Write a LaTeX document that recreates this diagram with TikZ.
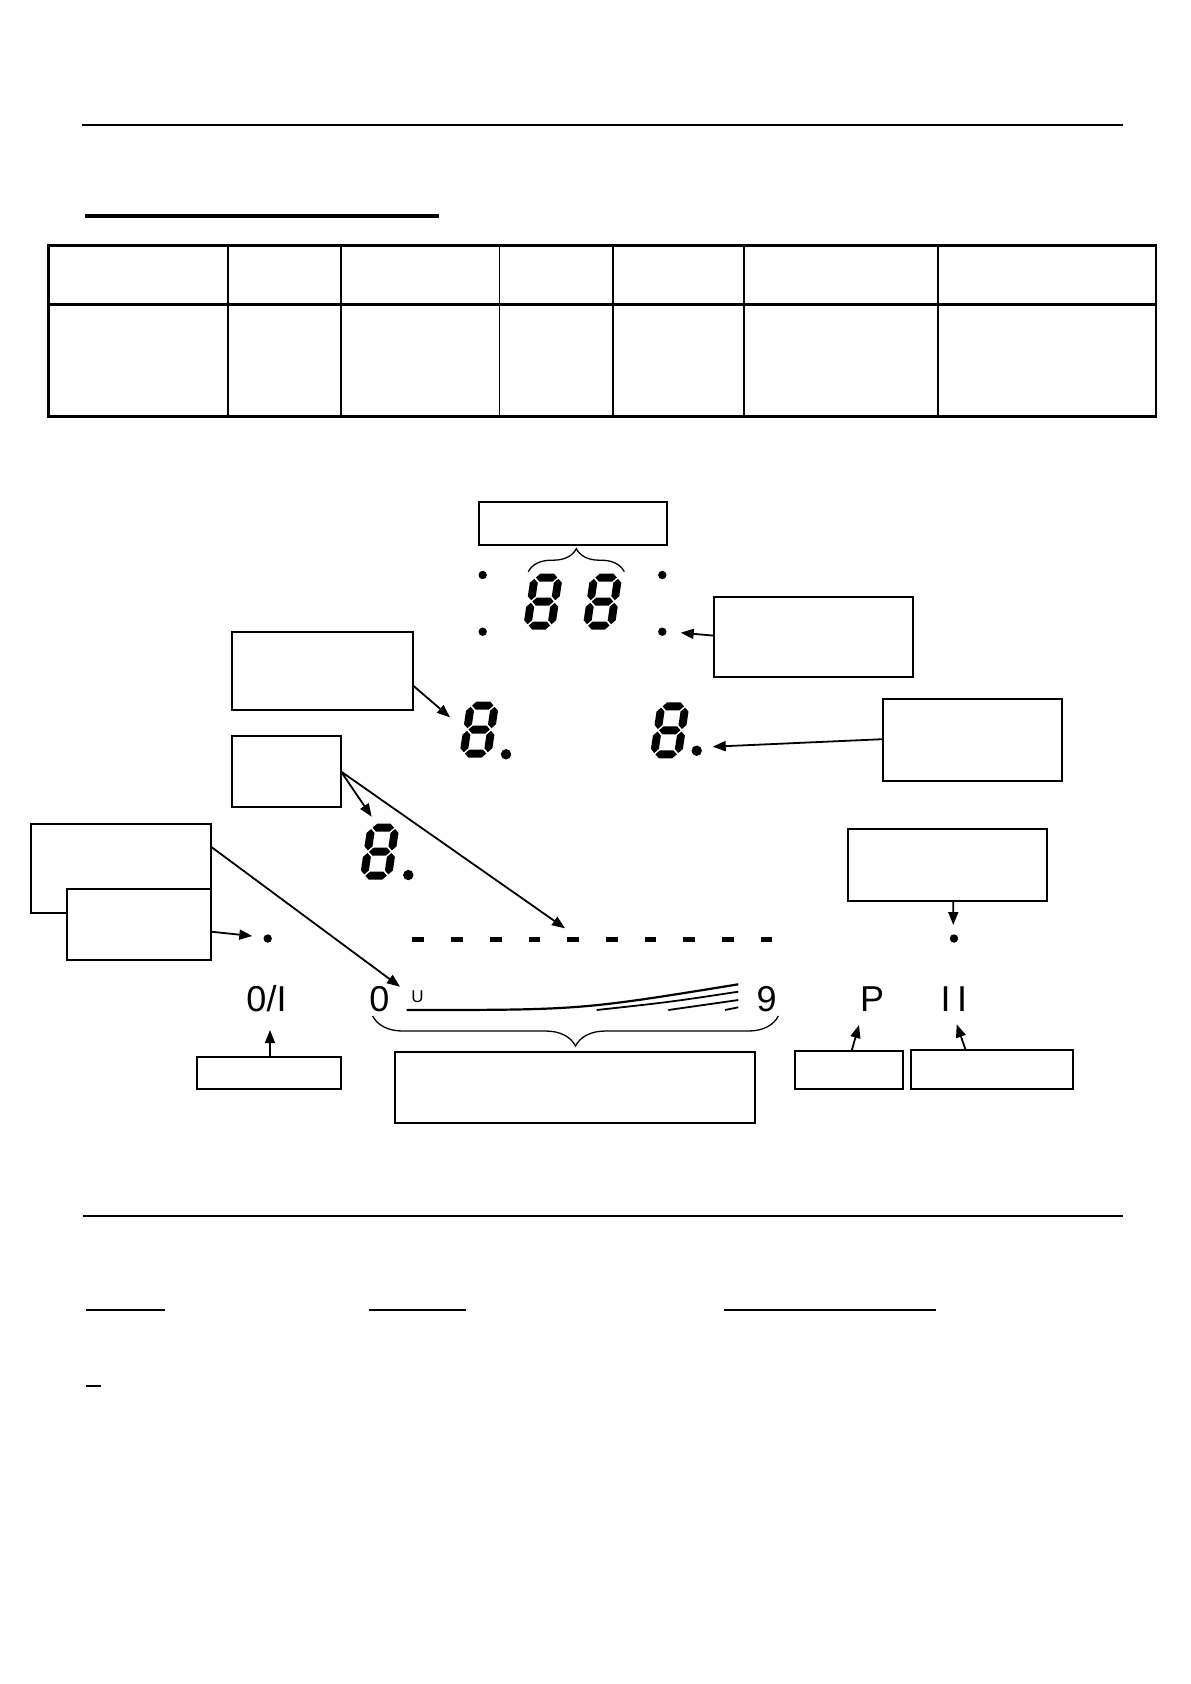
\documentclass[tikz,border=0pt]{standalone}
\usepackage{fontspec}
\setmainfont{Liberation Sans}
\usetikzlibrary{arrows.meta,calc,decorations.pathreplacing}
\newcommand\mybox[5]{\node[box, minimum width={(#4)-(#2)}, minimum height={(#5)-(#3)}] (#1) at ({((#2)+(#4))/2},{((#3)+(#5))/2}) {};}
\tikzset{
  segdigit/.pic={
    \begin{scope}[xslant=0.15]
      % horizontal segments
      \fill (-10.7,-24) -- (-6.7,-28) -- (6.7,-28) -- (10.7,-24) -- (6.7,-20) -- (-6.7,-20) -- cycle;
      \fill (-10.7,0) -- (-6.7,-4) -- (6.7,-4) -- (10.7,0) -- (6.7,4) -- (-6.7,4) -- cycle;
      \fill (-10.7,24) -- (-6.7,20) -- (6.7,20) -- (10.7,24) -- (6.7,28) -- (-6.7,28) -- cycle;
      % vertical segments
      \fill (-12,-22.7) -- (-8,-18.7) -- (-8,-5.3) -- (-12,-1.3) -- (-16,-5.3) -- (-16,-18.7) -- cycle;
      \fill (-12,1.3) -- (-8,5.3) -- (-8,18.7) -- (-12,22.7) -- (-16,18.7) -- (-16,5.3) -- cycle;
      \fill (12,-22.7) -- (16,-18.7) -- (16,-5.3) -- (12,-1.3) -- (8,-5.3) -- (8,-18.7) -- cycle;
      \fill (12,1.3) -- (16,5.3) -- (16,18.7) -- (12,22.7) -- (8,18.7) -- (8,5.3) -- cycle;
    \end{scope}
  }
}
\begin{document}
\begin{tikzpicture}[x=1pt,y=-1pt,
  box/.style={draw, line width=1.8pt, fill=white, inner sep=0pt, outer sep=0pt},
  arr/.style={line width=1.8pt, -{Triangle[length=13pt,width=10pt]}},
  thinrule/.style={line width=1.5pt},
  lbl/.style={inner sep=0pt, anchor=base, font=\fontsize{36}{40}\selectfont},
  bigdot/.style={circle, fill, inner sep=0pt, minimum size=10.4pt},
  smalldot/.style={circle, fill, inner sep=0pt, minimum size=8.4pt},
  segbar/.style={fill, inner sep=0pt, minimum width=11.7pt, minimum height=5.5pt},
  bracestyle/.style={line width=1.3pt, decorate},
]
\useasboundingbox[fill=white] (0,0) rectangle (1191,1684);

% ---- header rules ----
\draw[thinrule] (82,125) -- (1123,125);
\draw[line width=3.5pt] (85,216) -- (439,216);

% ---- table ----
\foreach \xx in {227.6,341,499.4,613.2,744,938}
  \draw[line width=1.8pt] (\xx,245.7) -- (\xx,416.5);
\draw[line width=2.6pt] (48.5,304.7) -- (1156,304.7);
\draw[line width=2.6pt] (48.5,245.7) rectangle (1156,416.5);

% ---- display: seven-segment digits ----
\pic (dA) at (543,601.5) {segdigit};
\pic (dB) at (602.5,601.5) {segdigit};
\pic (dL) at (479.2,729.5) {segdigit};
\pic (dR) at (669.7,730.3) {segdigit};
\pic (dT) at (379.7,851.7) {segdigit};

\node[bigdot] (dpL) at (506,754.3) {};
\node[bigdot] (dpR) at (696.7,750.7) {};
\node[bigdot] (dpT) at (408.3,875) {};

\node[smalldot] (dotTL) at (482.7,575) {};
\node[smalldot] (dotTR) at (662.3,575) {};
\node[smalldot] (dotBL) at (482.7,631.7) {};
\node[smalldot] (dotBR) at (662.3,631.7) {};
\node[smalldot] (dotLeft) at (267.7,938.5) {};
\node[smalldot] (dotRight) at (954,938.5) {};

% dashes
\foreach \i in {0,...,9}
  \node[segbar] (bar\i) at ({418.3+38.7*\i},939.3) {};

% ---- labels ----
\node[lbl] (lblOnOff) at (266.5,1011.3) {0/I};
\node[lbl] (lblZero) at (379.3,1011.3) {0};
\node[inner sep=0pt, anchor=base, font=\fontsize{17}{20}\selectfont] (lblU) at (417.5,1002.5) {U};
\node[lbl] (lblNine) at (766.7,1011.3) {9};
\node[lbl] (lblP) at (872,1011.3) {P};
\node[lbl] (lblII) at (953.8,1011.3) {I\kern6.5pt I};

% power ramp lines
\draw[line width=2.2pt] (406.7,1010) .. controls (580,1010) .. (738.3,984.3);
\draw[line width=1.8pt] (596.7,1010) .. controls (670,1002) .. (738.3,991.7);
\draw[line width=1.8pt] (668.3,1010) -- (738.3,1000);
\draw[line width=1.8pt] (725,1010) -- (738.3,1007.3);

% ---- braces ----
\draw[bracestyle, decoration={brace, amplitude=23pt}] (528.3,571.7) -- (624.3,571.7);
\draw[bracestyle, decoration={brace, amplitude=30pt}] (778.3,1016) -- (372.7,1016);

% ---- boxes ----
\mybox{tbox}{479}{502.3}{667.3}{545}
\mybox{rboxA}{714.3}{596.7}{913.3}{677.3}
\mybox{lboxA}{232.3}{631.7}{413.3}{710}
\mybox{rboxB}{882.7}{699.3}{1062.3}{780.7}
\mybox{sbox}{232.3}{735.7}{341}{807.3}
\mybox{backbox}{31}{824}{211}{912.7}
\mybox{frontbox}{66.7}{888.7}{211}{960}
\mybox{dotbox}{848.3}{829.3}{1046.7}{901}
\mybox{onbox}{196.7}{1056.7}{340.7}{1088.7}
\mybox{rangebox}{395}{1051.7}{755}{1122.7}
\mybox{pbox}{795}{1050.7}{902.7}{1089.3}
\mybox{iibox}{910.7}{1050}{1073.3}{1088.7}

% ---- arrow tips ----
\coordinate (tipA) at (680.7,632.7);
\coordinate (tipB) at (450,717.3);
\coordinate (tipC) at (712.7,746.7);
\coordinate (tipD) at (371.7,816.7);
\coordinate (tipE) at (565,928.3);
\coordinate (tipF) at (400,986.7);
\coordinate (tipG) at (252.3,936);
\coordinate (tipH) at (953.3,925);
\coordinate (tipI) at (270,1030);
\coordinate (tipJ) at (859,1025);
\coordinate (tipK) at (956.7,1024.3);

% ---- arrows ----
\draw[arr] ($(rboxA.north west)!0.484!(rboxA.south west)$) -- (tipA);
\draw[arr] ($(lboxA.north east)!0.69!(lboxA.south east)$) -- (tipB);
\draw[arr] ($(rboxB.north west)!0.49!(rboxB.south west)$) -- (tipC);
\draw[arr] (sbox.east) -- (tipD);
\draw[arr] (sbox.east) -- (tipE);
\draw[arr] ($(backbox.north east)!0.256!(backbox.south east)$) -- (tipF);
\draw[arr] ($(frontbox.north east)!0.603!(frontbox.south east)$) -- (tipG);
\draw[arr] ($(dotbox.south west)!0.529!(dotbox.south east)$) -- (tipH);
\draw[arr] ($(onbox.north west)!0.509!(onbox.north east)$) -- (tipI);
\draw[arr] ($(pbox.north west)!0.526!(pbox.north east)$) -- (tipJ);
\draw[arr] ($(iibox.north west)!0.338!(iibox.north east)$) -- (tipK);

% ---- footer rules ----
\draw[thinrule] (83,1216) -- (1123,1216);
\draw[line width=2pt] (85.8,1310) -- (165,1310);
\draw[line width=2pt] (368.8,1310) -- (466.4,1310);
\draw[line width=2pt] (724,1310) -- (936,1310);
\draw[line width=2pt] (85.8,1386) -- (101.3,1386);
\end{tikzpicture}
\end{document}
